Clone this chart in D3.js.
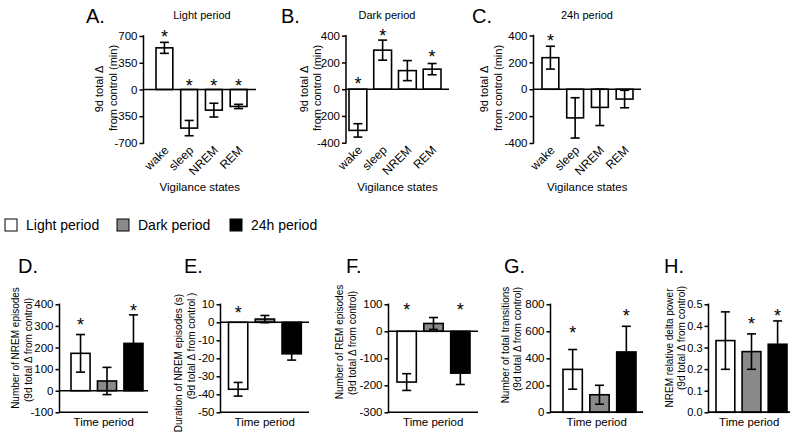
<!DOCTYPE html>
<html><head><meta charset="utf-8">
<script src="https://cdn.jsdelivr.net/npm/d3@7"></script>
<style>
body{margin:0;background:#fff;}
svg{display:block;font-family:"Liberation Sans",Arial,Helvetica,sans-serif;}
</style></head>
<body><svg id="c" width="800" height="439"></svg>
<script>
// ---------- data ----------
const states = ["wake", "sleep", "NREM", "REM"];
const periods = ["Light period", "Dark period", "24h period"];

const lightMean = [545, -505, -270, -222];
const lightErr  = [72, 100, 90, 28];
const lightStar = [740, 100, 100, 100];
const darkMean  = [-308, 292, 139, 150];
const darkErr   = [50, 75, 75, 42];
const darkStar  = [70, 430, null, 272];
const dayMean   = [235, -213, -135, -73];
const dayErr    = [85, 150, 135, 65];
const dayStar   = [392, null, null, null];

const ticksA = [-700, -350, 0, 350, 700];
const ticksBC = [-400, -200, 0, 200, 400];

const nremEpMean = [173, 45, 219];
const nremEpErr  = [87, 63, 132];
const nremEpStar = [323, null, 389];
const nremDurMean = [-37.2, 1.8, -17.5];
const nremDurErr  = [3.8, 2, 3.5];
const nremDurStar = [7.7, null, null];
const remEpMean = [-188, 29, -155];
const remEpErr  = [31, 22, 42];
const remEpStar = [97, null, 97];
const transMean = [318, 130, 447];
const transErr  = [147, 70, 190];
const transStar = [622, null, 750];
const deltaMean = [0.332, 0.281, 0.315];
const deltaErr  = [0.133, 0.082, 0.108];
const deltaStar = [null, 0.43, 0.468];

const ticksD = [-100, 0, 100, 200, 300, 400];
const ticksE = [-50, -40, -30, -20, -10, 0, 10];
const ticksF = [-300, -200, -100, 0, 100];
const ticksG = [0, 200, 400, 600, 800];
const ticksH = [0, 0.1, 0.2, 0.3, 0.4, 0.5];

// ---------- styles ----------
const periodFill = {"Light period": "#ffffff", "Dark period": "#8a8a8a", "24h period": "#000000"};
const INK = "#000";

const svg = d3.select("#c");

function panel(o) {
  const y = d3.scaleLinear().domain(o.domain).range([o.yBottom, o.yTop]);
  const x = d3.scaleBand().domain(o.cats).range([o.b0, o.b1]).paddingInner(o.pad).paddingOuter(0);
  const g = svg.append("g");
  const bw = x.bandwidth();

  // y axis
  const ax = g.append("g").attr("transform", `translate(${o.axisX},0)`)
    .call(d3.axisLeft(y).tickValues(o.ticks).tickFormat(o.fmt || (d => String(d))).tickSize(4).tickSizeOuter(0).tickPadding(2));
  ax.selectAll("path,line").attr("stroke", INK).attr("stroke-width", 1.5);
  ax.select(".domain").attr("d", `M0,${o.yBottom + 0.75}V${o.yTop - 0.75}`);
  ax.selectAll("text").attr("font-size", o.tickFont || 11.5).attr("fill", INK).attr("font-family", null);

  // bars
  g.selectAll("rect.bar").data(o.cats).join("rect")
    .attr("x", d => x(d)).attr("width", bw)
    .attr("y", (d, i) => Math.min(y(o.mean[i]), y(0)))
    .attr("height", (d, i) => Math.abs(y(o.mean[i]) - y(0)))
    .attr("fill", (d, i) => o.fill(d, i)).attr("stroke", INK).attr("stroke-width", 1.6);

  // zero line
  g.append("line").attr("x1", o.axisX).attr("x2", o.axisEnd).attr("y1", y(0)).attr("y2", y(0))
    .attr("stroke", INK).attr("stroke-width", 1.5);
  if (o.bottomLine) {
    g.append("line").attr("x1", o.axisX).attr("x2", o.axisEnd).attr("y1", o.yBottom).attr("y2", o.yBottom)
      .attr("stroke", INK).attr("stroke-width", 1.5);
  }

  // error bars
  const cap = 4.5;
  o.cats.forEach((c, i) => {
    const cx = x(c) + bw / 2;
    const lo = y(o.mean[i] - o.err[i]), hi = y(o.mean[i] + o.err[i]);
    g.append("line").attr("x1", cx).attr("x2", cx).attr("y1", lo).attr("y2", hi).attr("stroke", INK).attr("stroke-width", 1.6);
    [lo, hi].forEach(v => g.append("line").attr("x1", cx - cap).attr("x2", cx + cap).attr("y1", v).attr("y2", v).attr("stroke", INK).attr("stroke-width", 1.6));
    if (o.star[i] != null) {
      g.append("text").attr("x", cx).attr("y", y(o.star[i]) + 10.5).attr("text-anchor", "middle")
        .attr("font-size", 18).attr("fill", "#000").text("*");
    }
  });

  // category labels
  if (o.rotLabels) {
    o.cats.forEach(c => {
      const cx = x(c) + bw / 2 + 5;
      g.append("text").attr("transform", `translate(${cx},${o.yBottom + 8}) rotate(-45)`)
        .attr("text-anchor", "end").attr("font-size", 12).attr("fill", INK).text(c);
    });
  }
  // x title
  g.append("text").attr("x", (o.axisX + o.axisEnd) / 2).attr("y", o.xTitleY).attr("text-anchor", "middle")
    .attr("font-size", 11.5).attr("fill", INK).text(o.xTitle);
  // y title lines
  o.yLabel.forEach(l => {
    g.append("text").attr("transform", `translate(${l.x},${l.y}) rotate(-90)`).attr("text-anchor", "middle")
      .attr("font-size", o.yFont).attr("fill", INK).text(l.t);
  });
  // panel letter
  g.append("text").attr("x", o.letter.x).attr("y", o.letter.y).attr("font-size", 20).attr("fill", INK).text(o.letter.t);
  if (o.title) {
    g.append("text").attr("x", o.title.x).attr("y", o.title.y).attr("text-anchor", "middle")
      .attr("font-size", 11).attr("fill", INK).text(o.title.t);
  }
}

const whiteFill = () => "#ffffff";
const periodFillFn = d => periodFill[d];

// ---------- top row ----------
const topLabel = ["9d total \u0394", "from control (min)"];
panel({cats: states, mean: lightMean, err: lightErr, star: lightStar, fill: whiteFill,
  domain: [-700, 700], ticks: ticksA, yTop: 36, yBottom: 143, axisX: 143.5, axisEnd: 256,
  b0: 156, b1: 247, pad: 0.32, rotLabels: true, xTitle: "Vigilance states", xTitleY: 191, yFont: 11,
  yLabel: [{t: topLabel[0], x: 103, y: 89}, {t: topLabel[1], x: 117, y: 88}],
  letter: {t: "A.", x: 86, y: 23}, title: {t: "Light period", x: 202, y: 19}});
panel({cats: states, mean: darkMean, err: darkErr, star: darkStar, fill: whiteFill,
  domain: [-400, 400], ticks: ticksBC, yTop: 35.7, yBottom: 142.7, axisX: 346, axisEnd: 449,
  b0: 349, b1: 441, pad: 0.28, rotLabels: true, xTitle: "Vigilance states", xTitleY: 191, yFont: 11,
  yLabel: [{t: topLabel[0], x: 308, y: 89}, {t: topLabel[1], x: 321, y: 88}],
  letter: {t: "B.", x: 281, y: 23}, title: {t: "Dark period", x: 387, y: 19}});
panel({cats: states, mean: dayMean, err: dayErr, star: dayStar, fill: whiteFill,
  domain: [-400, 400], ticks: ticksBC, yTop: 35.5, yBottom: 143, axisX: 533.5, axisEnd: 641,
  b0: 542, b1: 633, pad: 0.32, rotLabels: true, xTitle: "Vigilance states", xTitleY: 191, yFont: 11,
  yLabel: [{t: topLabel[0], x: 488, y: 89}, {t: topLabel[1], x: 502, y: 88}],
  letter: {t: "C.", x: 472, y: 23}, title: {t: "24h period", x: 587, y: 19}});

// ---------- legend ----------
const legX = [5, 117, 230];
periods.forEach((p, i) => {
  svg.append("rect").attr("x", legX[i]).attr("y", 219).attr("width", 12).attr("height", 12)
    .attr("fill", periodFill[p]).attr("stroke", INK).attr("stroke-width", 1);
  svg.append("text").attr("x", legX[i] + 21).attr("y", 229.5).attr("font-size", 14).attr("fill", INK).text(p);
});

// ---------- bottom row ----------
const bl = "(9d total \u0394 from control)";
const common = {cats: periods, fill: periodFillFn, yTop: 304.3, yBottom: 412.3, pad: 0.28,
  bottomLine: true, xTitle: "Time period", xTitleY: 426, yFont: 10, tickFont: 11.5};
panel(Object.assign({}, common, {mean: nremEpMean, err: nremEpErr, star: nremEpStar,
  domain: [-100, 400], ticks: ticksD, axisX: 59.5, axisEnd: 148, b0: 71, b1: 143,
  yLabel: [{t: "Number of NREM episodes", x: 19, y: 348}, {t: bl, x: 32, y: 350}],
  letter: {t: "D.", x: 18, y: 273}}));
panel(Object.assign({}, common, {mean: nremDurMean, err: nremDurErr, star: nremDurStar,
  domain: [-50, 10], ticks: ticksE, axisX: 220.5, axisEnd: 309, b0: 228.5, b1: 301.3,
  yLabel: [{t: "Duration of NREM episodes (s)", x: 182, y: 363}, {t: "(9d total \u0394 from control )", x: 195, y: 346}],
  letter: {t: "E.", x: 184, y: 273}}));
panel(Object.assign({}, common, {mean: remEpMean, err: remEpErr, star: remEpStar,
  domain: [-300, 100], ticks: ticksF, axisX: 388.5, axisEnd: 478, b0: 397, b1: 470,
  yLabel: [{t: "Number of REM episodes", x: 343, y: 342}, {t: bl, x: 356, y: 343}],
  letter: {t: "F.", x: 346, y: 273}}));
panel(Object.assign({}, common, {mean: transMean, err: transErr, star: transStar,
  domain: [0, 800], ticks: ticksG, axisX: 550.5, axisEnd: 643, b0: 563, b1: 636,
  yLabel: [{t: "Number of total transitions", x: 509, y: 345}, {t: bl, x: 521, y: 339}],
  letter: {t: "G.", x: 504, y: 273}}));
panel(Object.assign({}, common, {mean: deltaMean, err: deltaErr, star: deltaStar,
  domain: [0, 0.5], ticks: ticksH, fmt: d3.format(".1f"), tickFont: 11, axisX: 708.5, axisEnd: 790, b0: 716, b1: 787,
  yLabel: [{t: "NREM relative delta power", x: 673, y: 348}, {t: bl, x: 685, y: 338}],
  letter: {t: "H.", x: 664, y: 273}}));
</script></body></html>
